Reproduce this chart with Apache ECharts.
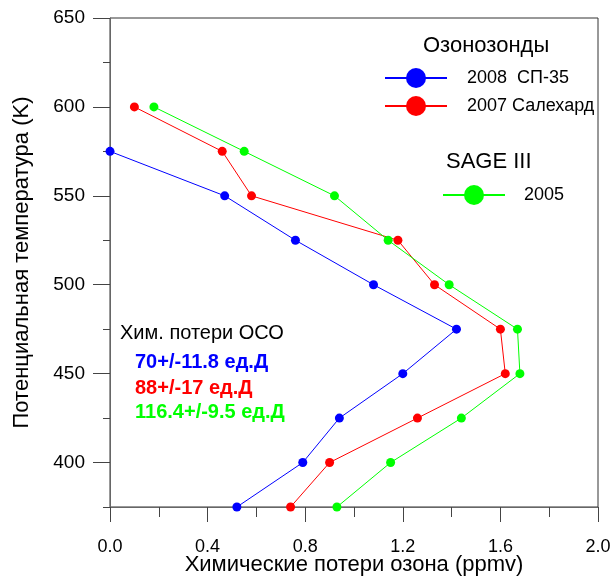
<!DOCTYPE html>
<html>
<head>
<meta charset="utf-8">
<script src="https://cdn.jsdelivr.net/npm/echarts@6/dist/echarts.min.js"></script>
<style>
html,body{margin:0;padding:0;background:#fff;}
#chart{width:613px;height:579px;}
</style>
</head>
<body>
<div id="chart"></div>
<script>
// Potential temperature levels (K)
var thetaBlue = [575, 550, 525, 500, 475, 450, 425, 400, 375];
var thetaRedGreen = [600, 575, 550, 525, 500, 475, 450, 425, 400, 375];
// Chemical ozone loss (ppmv)
var lossBlue = [0.00, 0.47, 0.76, 1.08, 1.42, 1.20, 0.94, 0.79, 0.52];
var lossRed = [0.10, 0.46, 0.58, 1.18, 1.33, 1.60, 1.62, 1.26, 0.90, 0.74];
var lossGreen = [0.18, 0.55, 0.92, 1.14, 1.39, 1.67, 1.68, 1.44, 1.15, 0.93];
var nameBlue = '2008  СП-35';
var nameRed = '2007 Салехард';
var nameGreen = '2005';
var yMajorTicks = [400, 450, 500, 550, 600, 650];
var yMinorTicks = [375, 425, 475, 525, 575, 625];

function pairs(xs, ys) { return xs.map(function (v, i) { return [v, ys[i]]; }); }

var FONT = '"Liberation Sans", Arial, sans-serif';
var chart = echarts.init(document.getElementById('chart'));

function mkSeries(name, xs, ys, color) {
  return {
    name: name, type: 'line', data: pairs(xs, ys),
    symbol: 'circle', symbolSize: 9, clip: false,
    lineStyle: { color: color, width: 1 },
    itemStyle: { color: color },
    emphasis: { disabled: true },
    animation: false
  };
}

chart.setOption({
  animation: false,
  textStyle: { fontFamily: FONT, color: '#000' },
  grid: { left: 110, right: 15, top: 18, bottom: 72, containLabel: false, outerBoundsMode: 'none',
    show: true, borderColor: '#333', borderWidth: 1 },
  xAxis: {
    type: 'value', min: 0, max: 2, interval: 0.4,
    name: 'Химические потери озона (ppmv)', nameLocation: 'middle', nameGap: 47, nameMoveOverlap: false,
    nameTextStyle: { fontSize: 22, fontFamily: FONT, color: '#000' },
    axisLine: { show: true, lineStyle: { color: '#666', width: 1 } },
    axisTick: { show: true, length: 15, lineStyle: { color: '#444' } },
    minorTick: { show: true, splitNumber: 2, length: 10, lineStyle: { color: '#444' } },
    splitLine: { show: false },
    axisLabel: { fontSize: 18, fontFamily: FONT, color: '#000', margin: 31,
      formatter: function (v) { return v.toFixed(1); } }
  },
  yAxis: [{
    type: 'value', min: 375, max: 650, position: 'left',
    name: 'Потенциальная температура (K)', nameLocation: 'middle', nameGap: 77,
    nameTextStyle: { fontSize: 22, fontFamily: FONT, color: '#000' },
    axisLine: { show: true, lineStyle: { color: '#666', width: 1 } },
    axisTick: { show: true, length: 17, customValues: yMajorTicks, lineStyle: { color: '#444' } },
    splitLine: { show: false },
    axisLabel: { fontSize: 19, fontFamily: FONT, color: '#000', margin: 25, customValues: yMajorTicks }
  }, {
    type: 'value', min: 375, max: 650, position: 'left', offset: 0,
    axisLine: { show: false },
    axisTick: { show: true, length: 7, customValues: yMinorTicks, lineStyle: { color: '#444' } },
    splitLine: { show: false },
    axisLabel: { show: false }
  }],
  legend: [{
    data: [nameBlue, nameRed], orient: 'vertical', left: 384, top: 68, padding: 0,
    itemWidth: 62, itemHeight: 25, itemGap: 8, selectedMode: false,
    textStyle: { fontSize: 18, fontFamily: FONT, color: '#000', padding: [0, 0, 0, 15] }
  }, {
    data: [nameGreen], orient: 'vertical', left: 442, top: 185, padding: 0,
    itemWidth: 62, itemHeight: 25, selectedMode: false,
    textStyle: { fontSize: 18, fontFamily: FONT, color: '#000', padding: [0, 0, 0, 14] }
  }],
  graphic: [
    { type: 'text', left: 423, top: 35, style: { text: 'Озонозонды', font: '22px ' + FONT, fill: '#000' } },
    { type: 'text', left: 446, top: 151, style: { text: 'SAGE III', font: '22px ' + FONT, fill: '#000' } },
    { type: 'text', left: 120, top: 323, style: { text: 'Хим. потери ОСО', font: '20px ' + FONT, fill: '#000' } },
    { type: 'text', left: 135, top: 352, style: { text: '70+/-11.8 ед.Д', font: 'bold 20px ' + FONT, fill: '#0000ff' } },
    { type: 'text', left: 135, top: 378, style: { text: '88+/-17 ед.Д', font: 'bold 20px ' + FONT, fill: '#ff0000' } },
    { type: 'text', left: 135, top: 402, style: { text: '116.4+/-9.5 ед.Д', font: 'bold 20px ' + FONT, fill: '#00ff00' } }
  ],
  series: [
    mkSeries(nameBlue, lossBlue, thetaBlue, '#0000ff'),
    mkSeries(nameRed, lossRed, thetaRedGreen, '#ff0000'),
    mkSeries(nameGreen, lossGreen, thetaRedGreen, '#00ff00')
  ]
});
</script>
</body>
</html>
